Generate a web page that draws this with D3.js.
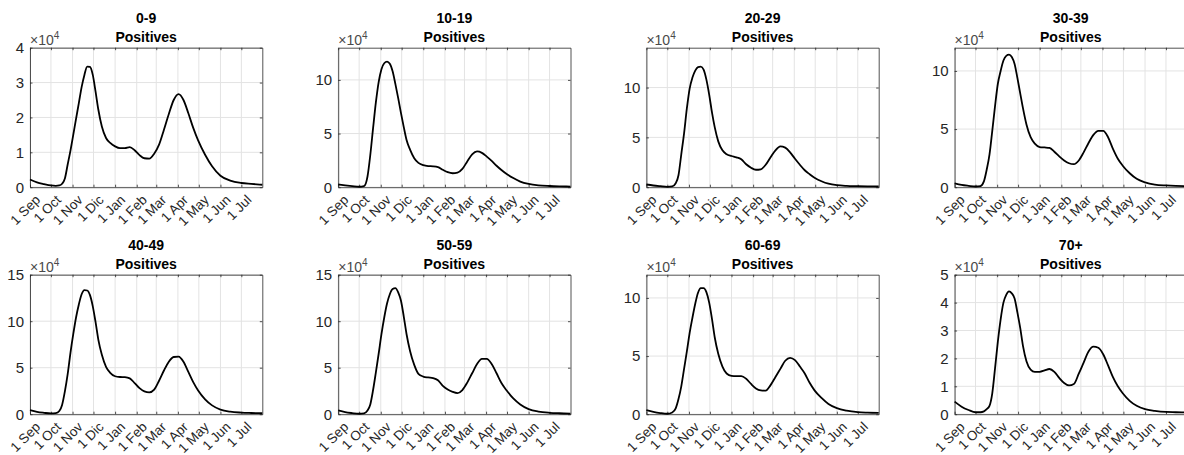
<!DOCTYPE html>
<html>
<head>
<meta charset="utf-8">
<script src="https://cdn.jsdelivr.net/npm/d3@7"></script>
<style>
  html, body { margin: 0; padding: 0; background: #fff; }
  svg { display: block; font-family: "Liberation Sans", Arial, Helvetica, sans-serif; }
</style>
</head>
<body>
<svg id="chart" width="1184" height="455"></svg>
<script>
// ---- data (values in units of 10^4 positives) ----
const dates = ["2020-09-01","2020-09-11","2020-09-21","2020-10-01","2020-10-08","2020-10-13","2020-10-17","2020-10-21","2020-10-25","2020-10-29","2020-11-02","2020-11-06","2020-11-10","2020-11-14","2020-11-18","2020-11-22","2020-11-26","2020-11-30","2020-12-04","2020-12-08","2020-12-13","2020-12-19","2020-12-25","2021-01-01","2021-01-08","2021-01-15","2021-01-22","2021-01-29","2021-02-05","2021-02-12","2021-02-19","2021-02-26","2021-03-05","2021-03-12","2021-03-19","2021-03-26","2021-04-02","2021-04-09","2021-04-16","2021-04-23","2021-04-30","2021-05-10","2021-05-20","2021-06-01","2021-06-15","2021-07-01","2021-07-15","2021-07-31"];

const age0_9   = [0.22,0.14,0.09,0.05,0.04,0.05,0.10,0.25,0.65,1.05,1.50,1.96,2.41,2.87,3.22,3.46,3.45,3.22,2.74,2.22,1.74,1.41,1.27,1.17,1.12,1.12,1.15,1.06,0.92,0.83,0.82,0.96,1.22,1.65,2.10,2.50,2.67,2.50,2.12,1.70,1.34,0.93,0.60,0.33,0.19,0.12,0.095,0.07];
const age10_19 = [0.25,0.17,0.10,0.04,0.10,1.00,3.00,5.50,7.90,9.80,11.00,11.55,11.70,11.50,10.80,9.60,8.30,6.90,5.60,4.40,3.50,2.70,2.27,2.05,1.97,1.95,1.88,1.62,1.40,1.30,1.35,1.70,2.40,3.05,3.33,3.20,2.85,2.45,2.00,1.60,1.25,0.85,0.52,0.30,0.17,0.11,0.08,0.06];
const age20_29 = [0.27,0.17,0.10,0.04,0.08,0.40,1.20,3.30,5.40,7.90,9.90,11.00,11.70,12.05,12.10,11.80,10.80,9.30,7.50,6.00,4.60,3.70,3.30,3.13,3.00,2.80,2.30,1.95,1.75,1.80,2.25,3.00,3.70,4.10,3.97,3.50,2.85,2.25,1.70,1.30,0.95,0.60,0.35,0.20,0.13,0.10,0.08,0.07];
const age30_39 = [0.34,0.20,0.12,0.06,0.10,0.50,1.50,2.80,4.85,7.00,8.90,10.00,10.90,11.30,11.40,11.20,10.60,9.40,8.10,6.80,5.40,4.30,3.75,3.45,3.42,3.38,3.05,2.65,2.30,2.06,1.98,2.30,3.00,3.80,4.50,4.85,4.85,4.30,3.30,2.45,1.85,1.20,0.72,0.42,0.23,0.15,0.11,0.09];
const age40_49 = [0.43,0.25,0.15,0.08,0.12,0.35,1.00,2.45,4.30,6.60,8.60,10.40,11.80,12.90,13.35,13.30,12.80,11.60,9.90,8.00,6.40,5.10,4.45,4.08,4.00,3.98,3.85,3.35,2.80,2.45,2.35,2.65,3.60,4.70,5.65,6.15,6.20,5.65,4.55,3.45,2.55,1.60,0.95,0.50,0.27,0.17,0.13,0.10];
const age50_59 = [0.40,0.22,0.12,0.05,0.10,0.40,1.05,2.60,4.50,6.50,8.60,10.40,11.90,12.90,13.45,13.55,13.10,12.20,10.50,8.60,6.80,5.30,4.34,4.05,3.95,3.88,3.65,3.05,2.65,2.40,2.27,2.60,3.40,4.40,5.40,5.95,5.95,5.40,4.40,3.35,2.60,1.70,1.05,0.55,0.28,0.15,0.10,0.07];
const age60_69 = [0.34,0.20,0.10,0.04,0.15,0.50,1.30,2.40,3.90,5.40,7.00,8.30,9.50,10.45,10.85,10.85,10.50,9.60,8.20,6.60,5.20,4.10,3.50,3.30,3.28,3.28,3.05,2.60,2.22,2.05,2.02,2.50,3.20,3.90,4.60,4.85,4.65,4.10,3.50,2.70,2.05,1.40,0.88,0.52,0.30,0.17,0.13,0.11];
const age70p   = [0.45,0.27,0.15,0.07,0.07,0.10,0.18,0.30,0.75,1.65,2.60,3.40,4.00,4.28,4.40,4.33,4.15,3.65,3.10,2.45,1.90,1.60,1.52,1.52,1.57,1.62,1.52,1.30,1.12,1.03,1.08,1.45,1.85,2.25,2.42,2.38,2.15,1.75,1.33,1.00,0.75,0.48,0.30,0.18,0.12,0.08,0.07,0.06];

const panelTitles = ["0-9","10-19","20-29","30-39","40-49","50-59","60-69","70+"];
const panelSubtitle = "Positives";
const yMax   = [4, 13, 14, 12, 15, 15, 12, 5];
const yStep  = [1, 5, 5, 5, 5, 5, 5, 1];
const tickDates  = ["2020-09-01","2020-10-01","2020-11-01","2020-12-01","2021-01-01","2021-02-01","2021-03-01","2021-04-01","2021-05-01","2021-06-01","2021-07-01"];
const tickLabels = ["1 Sep","1 Oct","1 Nov","1 Dic","1 Jan","1 Feb","1 Mar","1 Apr","1 May","1 Jun","1 Jul"];
const xStart = "2020-09-01", xEnd = "2021-07-31";
const exponentLabel = "4";

const series = [age0_9, age10_19, age20_29, age30_39, age40_49, age50_59, age60_69, age70p];

// ---- layout ----
const parse = d3.utcParse("%Y-%m-%d");
const colLeft = 30, colPitch = 308.2, axW = 232.3;
const rowTop = [47.7, 274.7], axH = 139.5;
const axisCol = "#262626", gridCol = "#e3e3e3";

const svg = d3.select("#chart");
const dateVals = dates.map(parse);
const tickVals = tickDates.map(parse);

series.forEach((vals, i) => {
  const col = i % 4, row = Math.floor(i / 4);
  const left = colLeft + col * colPitch, top = rowTop[row];
  const g = svg.append("g").attr("transform", `translate(${left},${top})`);

  const x = d3.scaleUtc().domain([parse(xStart), parse(xEnd)]).range([0, axW]);
  const y = d3.scaleLinear().domain([0, yMax[i]]).range([axH, 0]);
  const yTicks = d3.range(0, yMax[i] + 1e-9, yStep[i]);

  // grid
  g.append("g").selectAll("line").data(tickVals).join("line")
    .attr("x1", d => x(d)).attr("x2", d => x(d)).attr("y1", 0).attr("y2", axH)
    .attr("stroke", gridCol).attr("stroke-width", 1);
  g.append("g").selectAll("line").data(yTicks).join("line")
    .attr("x1", 0).attr("x2", axW).attr("y1", d => y(d)).attr("y2", d => y(d))
    .attr("stroke", gridCol).attr("stroke-width", 1);

  // axes (ticks inward)
  const xb = g.append("g").attr("transform", `translate(0,${axH})`)
    .call(d3.axisBottom(x).tickValues(tickVals).tickSizeInner(-2.5).tickSizeOuter(0).tickFormat((d, k) => tickLabels[k]));
  xb.select(".domain").attr("stroke", axisCol).attr("stroke-width", 0.8);
  xb.selectAll(".tick line").attr("stroke", axisCol).attr("stroke-width", 0.8);
  xb.selectAll(".tick text")
    .attr("fill", axisCol).attr("font-size", 13.5).attr("text-anchor", "end")
    .attr("dy", null).attr("y", 0)
    .attr("transform", "translate(8,11) rotate(-45)")
    .attr("dominant-baseline", "middle");

  const xt = g.append("g").call(d3.axisTop(x).tickValues(tickVals).tickSizeInner(-2.5).tickSizeOuter(0).tickFormat(""));
  xt.select(".domain").attr("stroke", axisCol).attr("stroke-width", 0.8);
  xt.selectAll(".tick line").attr("stroke", axisCol).attr("stroke-width", 0.8);

  const yl = g.append("g")
    .call(d3.axisLeft(y).tickValues(yTicks).tickSizeInner(-2.5).tickSizeOuter(0).tickPadding(6).tickFormat(d3.format("d")));
  yl.select(".domain").attr("stroke", axisCol).attr("stroke-width", 0.8);
  yl.selectAll(".tick line").attr("stroke", axisCol).attr("stroke-width", 0.8);
  yl.selectAll(".tick text").attr("fill", axisCol).attr("font-size", 15);

  const yr = g.append("g").attr("transform", `translate(${axW},0)`)
    .call(d3.axisRight(y).tickValues(yTicks).tickSizeInner(-2.5).tickSizeOuter(0).tickFormat(""));
  yr.select(".domain").attr("stroke", axisCol).attr("stroke-width", 0.8);
  yr.selectAll(".tick line").attr("stroke", axisCol).attr("stroke-width", 0.8);

  // curve
  const line = d3.line()
    .x((d, k) => x(dateVals[k]))
    .y(d => y(d))
    .curve(d3.curveMonotoneX);
  g.append("path").datum(vals).attr("d", line)
    .attr("fill", "none").attr("stroke", "#000").attr("stroke-width", 1.8);

  // exponent label
  const ex = g.append("text").attr("x", 0).attr("y", -3)
    .attr("fill", "#4a4a4a").attr("font-size", 14);
  ex.append("tspan").text("\u00d710");
  ex.append("tspan").attr("font-size", 10).attr("dy", -6).text(exponentLabel);

  // titles
  g.append("text").attr("x", axW / 2).attr("y", -24.5).attr("text-anchor", "middle")
    .attr("font-weight", "bold").attr("font-size", 14).attr("fill", "#000").text(panelTitles[i]);
  g.append("text").attr("x", axW / 2).attr("y", -6).attr("text-anchor", "middle")
    .attr("font-weight", "bold").attr("font-size", 14).attr("fill", "#000").text(panelSubtitle);
});
</script>
</body>
</html>
